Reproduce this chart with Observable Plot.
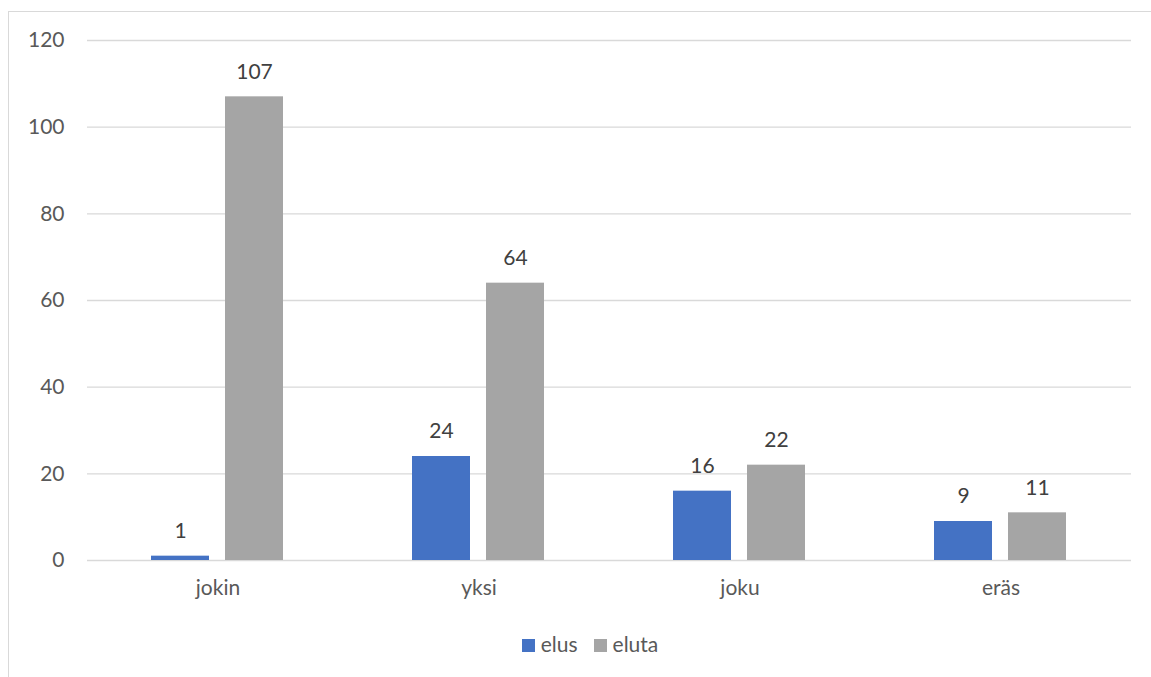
<!DOCTYPE html>
<html><head><meta charset="utf-8">
<script src="https://cdn.jsdelivr.net/npm/d3@7"></script>
<script src="https://cdn.jsdelivr.net/npm/@observablehq/plot@0.6"></script>
<style>
body{margin:0;background:#fff;font-family:Lato,"Open Sans",sans-serif;}
#wrap{position:relative;width:1151px;height:677px;overflow:hidden;}
#frame{position:absolute;left:8px;top:11px;width:1200px;height:700px;border-left:1px solid #d9d9d9;border-top:1px solid #d9d9d9;}
#chart{position:absolute;left:0;top:0;}
#legend{position:absolute;top:631px;left:0;width:1180px;text-align:center;font-size:21px;color:#595959;}
#legend span.sw{display:inline-block;width:13px;height:13px;vertical-align:0px;margin-right:6px;}
#legend span.it{margin:0 8px;}
</style></head>
<body><div id="wrap"><div id="frame"></div><div id="chart"></div>
<div id="legend"><span class="it"><span class="sw" style="background:#4472C4"></span>elus</span><span class="it"><span class="sw" style="background:#A5A5A5"></span>eluta</span></div></div>
<script>
const categories = ["jokin", "yksi", "joku", "eräs"];
const seriesNames = ["elus", "eluta"];
const elus = [1, 24, 16, 9];
const eluta = [107, 64, 22, 11];
const yTicks = [0, 20, 40, 60, 80, 100, 120];
const colors = ["#4472C4", "#A5A5A5"];

const data = [];
categories.forEach((c, i) => {
  data.push({cat: c, series: "elus", value: elus[i]});
  data.push({cat: c, series: "eluta", value: eluta[i]});
});

const chart = Plot.plot({
  width: 1151, height: 677,
  marginTop: 40, marginBottom: 117, marginLeft: 85, marginRight: 19,
  style: {fontFamily: "Lato, 'Open Sans', sans-serif", fontSize: "21px", color: "#595959", background: "transparent"},
  fx: {domain: categories, padding: 0, label: null},
  x: {domain: seriesNames, paddingInner: 0.216, paddingOuter: 0.86, axis: null},
  y: {domain: [0, 120], ticks: yTicks, label: null},
  color: {domain: seriesNames, range: colors},
  marks: [
    Plot.gridY(yTicks, {stroke: "#d9d9d9", strokeOpacity: 1, strokeWidth: 1.3}),
    Plot.axisY(yTicks, {tickSize: 0, tickPadding: 23, label: null, fontSize: 21}),
    Plot.axisFx({anchor: "bottom", tickSize: 0, tickPadding: 20, label: null, fontSize: 21}),
    Plot.barY(data, {fx: "cat", x: "series", y: "value", fill: "series"}),
    Plot.text(data, {fx: "cat", x: "series", y: "value", text: d => String(d.value), dy: -25, fill: "#404040", fontSize: 21})
  ]
});
document.getElementById("chart").appendChild(chart);
</script></body></html>
